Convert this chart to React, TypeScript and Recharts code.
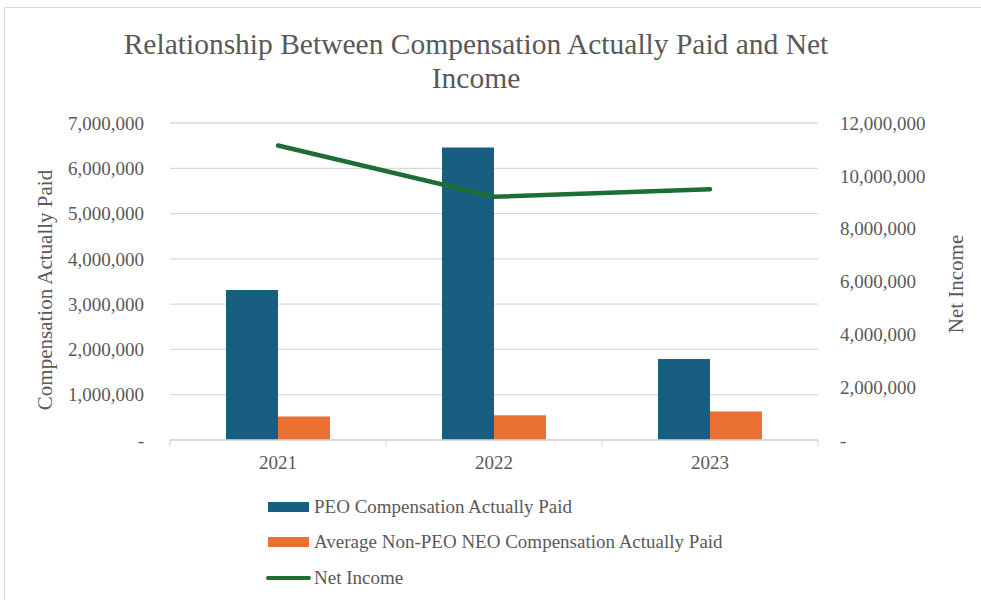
import React from 'react';
import { ComposedChart, Bar, Line, XAxis, YAxis, CartesianGrid } from 'recharts';

const years = ['2021', '2022', '2023'];
const peoCompActuallyPaid = [3310000, 6460000, 1790000];
const nonPeoCompActuallyPaid = [520000, 545000, 630000];
const netIncome = [11150000, 9210000, 9490000];
const leftTicks = [0, 1000000, 2000000, 3000000, 4000000, 5000000, 6000000, 7000000];
const rightTicks = [0, 2000000, 4000000, 6000000, 8000000, 10000000, 12000000];

const data = years.map((year, i) => ({
  year,
  peo: peoCompActuallyPaid[i],
  neo: nonPeoCompActuallyPaid[i],
  ni: netIncome[i],
}));

const FONT = '"Liberation Serif", "Times New Roman", serif';
const TEXT = '#595959';
const GRID = '#d9d9d9';
const BLUE = '#175E80';
const ORANGE = '#EA7132';
const GREEN = '#1D6E36';

const fmt = (v: number) => (v === 0 ? '-' : v.toLocaleString('en-US'));

const XTick = (props: any) => {
  const { x, y, payload, index } = props;
  const half = payload && payload.offset > 0 ? payload.offset : 108;
  const last = index === years.length - 1;
  return (
    <g>
      <line x1={x - half} x2={x - half} y1={y} y2={y + 6} stroke={GRID} strokeWidth={1.3} />
      {last && <line x1={x + half} x2={x + half} y1={y} y2={y + 6} stroke={GRID} strokeWidth={1.3} />}
      <text x={x} y={y + 29} textAnchor="middle" fill={TEXT} fontSize={19} fontFamily={FONT}>
        {payload.value}
      </text>
    </g>
  );
};

const legendItems = [
  { label: 'PEO Compensation Actually Paid', color: BLUE, type: 'rect' },
  { label: 'Average Non-PEO NEO Compensation Actually Paid', color: ORANGE, type: 'rect' },
  { label: 'Net Income', color: GREEN, type: 'line' },
];

export default function App() {
  return (
    <div
      style={{
        position: 'absolute',
        left: 0,
        top: 0,
        width: 981,
        height: 600,
        background: '#fff',
        overflow: 'hidden',
        fontFamily: FONT,
      }}
    >
      <div
        style={{
          position: 'absolute',
          left: 4,
          top: 7,
          width: 1000,
          height: 620,
          border: '1.5px solid #d9d9d9',
          boxSizing: 'border-box',
        }}
      />
      <ComposedChart
        width={981}
        height={600}
        data={data}
        margin={{ top: 123, right: 63, bottom: 120, left: 70 }}
        barGap={0}
        style={{ position: 'absolute', left: 0, top: 0 }}
      >
        <CartesianGrid yAxisId="left" vertical={false} stroke={GRID} strokeWidth={1.3} />
        <XAxis
          dataKey="year"
          height={40}
          axisLine={{ stroke: GRID, strokeWidth: 1.3 }}
          tickLine={false}
          tickSize={0}
          tickMargin={0}
          tick={<XTick />}
          interval={0}
        />
        <YAxis
          yAxisId="left"
          orientation="left"
          width={100}
          domain={[0, 7000000]}
          ticks={leftTicks}
          tickFormatter={fmt}
          axisLine={false}
          tickLine={false}
          tickMargin={20}
          tick={{ fill: TEXT, fontSize: 19, fontFamily: FONT }}
          interval={0}
        />
        <YAxis
          yAxisId="right"
          orientation="right"
          width={100}
          domain={[0, 12000000]}
          ticks={rightTicks}
          tickFormatter={fmt}
          axisLine={false}
          tickLine={false}
          tickMargin={16}
          tick={{ fill: TEXT, fontSize: 19, fontFamily: FONT }}
          interval={0}
        />
        <Bar yAxisId="left" dataKey="peo" fill={BLUE} barSize={52} isAnimationActive={false} />
        <Bar yAxisId="left" dataKey="neo" fill={ORANGE} barSize={52} isAnimationActive={false} />
        <Line
          yAxisId="right"
          dataKey="ni"
          stroke={GREEN}
          strokeWidth={4.5}
          strokeLinecap="round"
          dot={false}
          activeDot={false}
          isAnimationActive={false}
        />
      </ComposedChart>

      <div
        style={{
          position: 'absolute',
          left: 76,
          top: 27,
          width: 800,
          textAlign: 'center',
          fontSize: 29.5,
          lineHeight: '34px',
          color: TEXT,
          whiteSpace: 'nowrap',
        }}
      >
        Relationship Between Compensation Actually Paid and Net
        <br />
        Income
      </div>

      <div
        style={{
          position: 'absolute',
          left: 45,
          top: 290,
          transform: 'translate(-50%, -50%) rotate(-90deg)',
          fontSize: 21,
          color: TEXT,
          whiteSpace: 'nowrap',
        }}
      >
        Compensation Actually Paid
      </div>
      <div
        style={{
          position: 'absolute',
          left: 956,
          top: 284,
          transform: 'translate(-50%, -50%) rotate(-90deg)',
          fontSize: 21,
          color: TEXT,
          whiteSpace: 'nowrap',
        }}
      >
        Net Income
      </div>

      {legendItems.map((item, i) => (
        <div
          key={item.label}
          style={{
            position: 'absolute',
            left: 266,
            top: [507, 542, 578][i] - 12,
            height: 24,
            display: 'flex',
            alignItems: 'center',
            fontSize: 19,
            color: TEXT,
            whiteSpace: 'nowrap',
          }}
        >
          {item.type === 'rect' ? (
            <span
              style={{
                display: 'inline-block',
                width: 41,
                height: 10,
                marginLeft: 2,
                marginRight: 5,
                background: item.color,
              }}
            />
          ) : (
            <span
              style={{
                display: 'inline-block',
                width: 45,
                height: 4,
                borderRadius: 2,
                marginRight: 3,
                background: item.color,
              }}
            />
          )}
          <span>{item.label}</span>
        </div>
      ))}
    </div>
  );
}
